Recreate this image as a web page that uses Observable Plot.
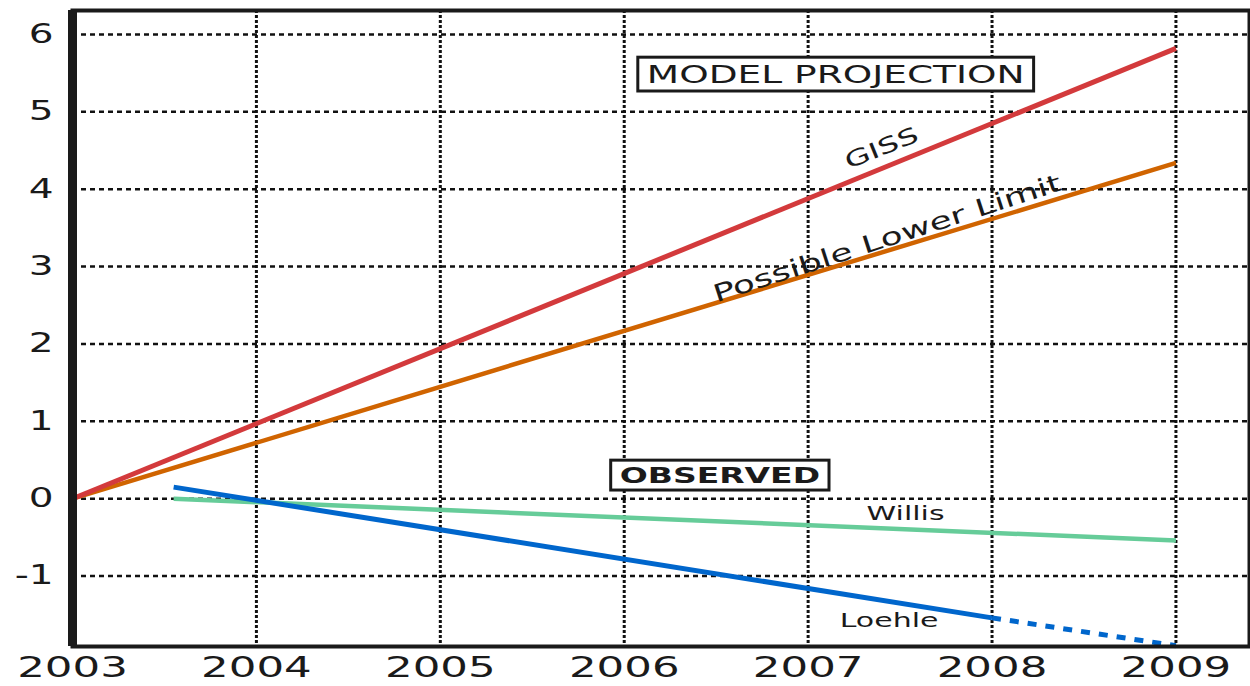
<!DOCTYPE html>
<html><head><meta charset="utf-8">
<script src="https://cdn.jsdelivr.net/npm/d3@7"></script>
<script src="https://cdn.jsdelivr.net/npm/@observablehq/plot@0.6"></script>
<style>html,body{margin:0;padding:0;background:#fff;}</style>
</head><body><div id="chart"></div>
<script>
// ---- data ----
const xTicks = [2003, 2004, 2005, 2006, 2007, 2008, 2009];
const yTicks = [-1, 0, 1, 2, 3, 4, 5, 6];
const gissYears = [2003, 2009];
const gissValues = [0, 5.82];
const lowerYears = [2003, 2009];
const lowerValues = [0, 4.34];
const willisYears = [2003.55, 2009];
const willisValues = [0, -0.54];
const loehleYears = [2003.55, 2008];
const loehleValues = [0.15, -1.54];
const loehleExtYears = [2008, 2009];
const loehleExtValues = [-1.54, -1.9];
const labelTexts = ["GISS", "Possible Lower Limit", "Willis", "Loehle"];
const labelYears = [2007.40, 2007.43, 2007.53, 2007.44];
const labelValues = [4.53, 3.36, -0.19, -1.58];
const boxTexts = ["MODEL PROJECTION", "OBSERVED"];
const boxYears = [2007.15, 2006.52];
const boxValues = [5.48, 0.30];

const zip = (xs, ys) => xs.map((x, i) => ({x, y: ys[i]}));
const labels = labelTexts.map((t, i) => ({t, x: labelYears[i], y: labelValues[i]}));
const boxes = boxTexts.map((t, i) => ({t, x: boxYears[i], y: boxValues[i]}));
const ink = "#1a1a1a";
const FONT = "DejaVu Sans";

const chart = Plot.plot({
  width: 1250, height: 686,
  marginLeft: 72, marginRight: 1, marginTop: 10, marginBottom: 40,
  style: {fontFamily: FONT, fontSize: "25px", color: ink, background: "#fff"},
  x: {domain: [2003, 2009.4], axis: null},
  y: {domain: [-1.91, 6.31], axis: null},
  marks: [
    Plot.gridX(xTicks.slice(1), {stroke: "#111", strokeOpacity: 1, strokeWidth: 3, strokeDasharray: "3,2"}),
    Plot.gridY(yTicks, {stroke: "#111", strokeOpacity: 1, strokeWidth: 2.5, strokeDasharray: "5,4"}),
    Plot.axisX(xTicks, {tickSize: 0, tickPadding: 10, fontSize: 29, label: null, tickFormat: d => String(d), fill: ink}),
    Plot.axisY(yTicks, {tickSize: 0, tickPadding: 19, fontSize: 26, label: null, tickFormat: d => String(d), fill: ink}),
    Plot.line(zip(lowerYears, lowerValues), {x: "x", y: "y", stroke: "#d06400", strokeWidth: 4.5, strokeLinecap: "butt"}),
    Plot.line(zip(gissYears, gissValues), {x: "x", y: "y", stroke: "#d33a3c", strokeWidth: 5, strokeLinecap: "butt"}),
    Plot.line(zip(willisYears, willisValues), {x: "x", y: "y", stroke: "#66cc99", strokeWidth: 4.5, strokeLinecap: "butt"}),
    Plot.line(zip(loehleYears, loehleValues), {x: "x", y: "y", stroke: "#0066cc", strokeWidth: 5, strokeLinecap: "butt"}),
    Plot.line(zip(loehleExtYears, loehleExtValues), {x: "x", y: "y", stroke: "#0066cc", strokeWidth: 5, strokeDasharray: "9,9", strokeLinecap: "butt"}),
    Plot.text([labels[0]], {x: "x", y: "y", text: "t", rotate: -22, fontSize: 22, fill: ink}),
    Plot.text([labels[1]], {x: "x", y: "y", text: "t", rotate: -18, fontSize: 24, fill: ink}),
    Plot.text([labels[2]], {x: "x", y: "y", text: "t", fontSize: 20, fill: ink}),
    Plot.text([labels[3]], {x: "x", y: "y", text: "t", fontSize: 20, fill: ink}),
    Plot.text([boxes[0]], {x: "x", y: "y", text: "t", fontSize: 25, fill: ink}),
    Plot.text([boxes[1]], {x: "x", y: "y", text: "t", fontSize: 22, fontWeight: "bold", fill: ink}),
    Plot.frame({stroke: ink, strokeWidth: 4}),
    Plot.ruleX([xTicks[0]], {stroke: ink, strokeWidth: 9})
  ]
});
document.getElementById("chart").appendChild(chart);

// widen all text horizontally (reference glyphs are stretched)
const SX = 1.5;
chart.querySelectorAll("text").forEach(t => {
  const tr = t.getAttribute("transform") || "";
  t.setAttribute("transform", tr + ` scale(${SX},1)`);
});

// white boxes with black outline behind the two headings
const svgBox = chart.getBoundingClientRect();
chart.querySelectorAll("text").forEach(t => {
  if (!boxTexts.includes(t.textContent)) return;
  const b = t.getBoundingClientRect();
  const padX = 9, padY = 2;
  const r = document.createElementNS("http://www.w3.org/2000/svg", "rect");
  r.setAttribute("x", b.left - svgBox.left - padX);
  r.setAttribute("y", b.top - svgBox.top - padY);
  r.setAttribute("width", b.width + 2 * padX);
  r.setAttribute("height", b.height + 2 * padY);
  r.setAttribute("fill", "#fff");
  r.setAttribute("stroke", ink);
  r.setAttribute("stroke-width", 3);
  const g = t.closest("g[aria-label]") || t.parentNode;
  g.parentNode.insertBefore(r, g);
});
</script>
</body></html>
